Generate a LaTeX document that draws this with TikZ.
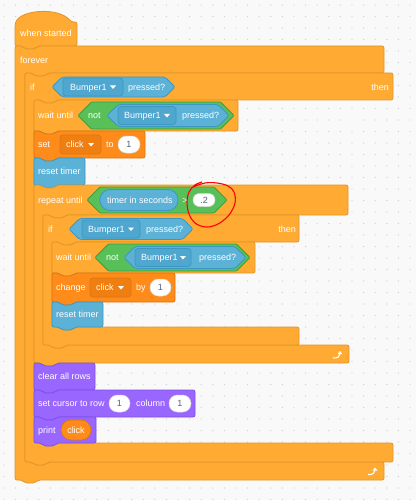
\documentclass[tikz,border=0pt]{standalone}
\usepackage{fontspec}
\setmainfont{Liberation Sans}
\usetikzlibrary{arrows.meta}

\definecolor{ctrlfill}{HTML}{FFAB33}
\definecolor{ctrlline}{HTML}{E0952A}
\definecolor{sensfill}{HTML}{5CB1D6}
\definecolor{sensline}{HTML}{3C98C0}
\definecolor{sensdrop}{HTML}{4FA6CE}
\definecolor{opfill}{HTML}{59C059}
\definecolor{opline}{HTML}{3F9E3F}
\definecolor{varfill}{HTML}{FF8C1A}
\definecolor{varline}{HTML}{DB7410}
\definecolor{vardrop}{HTML}{F07F12}
\definecolor{purpfill}{HTML}{9966FF}
\definecolor{purpline}{HTML}{7E52E0}
\definecolor{ovaltext}{HTML}{575E75}
\definecolor{canvas}{HTML}{F9F9F9}
\definecolor{griddot}{HTML}{D2D2D2}

% stack block: x0, y0, x1, y1, style
\newcommand{\stackblk}[5]{%
  \draw[#5] (#1,#2) -- ++(7,0) -- ++(3,3) -- ++(10,0) -- ++(3,-3) -- (#3,#2)
    -- (#3,#4) -- (#1+23,#4) -- ++(-3,3) -- ++(-10,0) -- ++(-3,-3) -- (#1,#4) -- cycle;}
% c block: x0, y0, head right, head bottom, arm top, arm right, bottom, inner x, style
\newcommand{\cblk}[9]{%
  \draw[#9] (#1,#2) -- ++(7,0) -- ++(3,3) -- ++(10,0) -- ++(3,-3) -- (#3,#2)
    -- (#3,#4) -- (#8+23,#4) -- ++(-3,3) -- ++(-10,0) -- ++(-3,-3) -- (#8,#4)
    -- (#8,#5) -- ++(7,0) -- ++(3,3) -- ++(10,0) -- ++(3,-3) -- (#6,#5)
    -- (#6,#7) -- (#1+23,#7) -- ++(-3,3) -- ++(-10,0) -- ++(-3,-3) -- (#1,#7) -- cycle;}
% boolean: x0, x1, yc, half height, style
\newcommand{\hexblk}[5]{%
  \draw[#5] (#1,#3) -- (#1+#4,#3-#4) -- (#2-#4,#3-#4) -- (#2,#3)
    -- (#2-#4,#3+#4) -- (#1+#4,#3+#4) -- cycle;}
% box: x0, y0, x1, y1, radius, style
\newcommand{\roundblk}[6]{\draw[#6, rounded corners=#5] (#1,#2) rectangle (#3,#4);}
\newcommand{\droparrow}[2]{\fill[white] (#1-3,#2-1.5) -- (#1+3,#2-1.5) -- (#1,#2+2) -- cycle;}

\begin{document}
\begin{tikzpicture}[x=1pt, y=-1pt,
    ctrl/.style={fill=ctrlfill, draw=ctrlline, line width=0.8pt, rounded corners=2pt},
    sens/.style={fill=sensfill, draw=sensline, line width=0.8pt, rounded corners=2pt},
    sdrop/.style={fill=sensdrop, draw=sensline, line width=0.7pt},
    oper/.style={fill=opfill, draw=opline, line width=0.8pt, rounded corners=1pt},
    varb/.style={fill=varfill, draw=varline, line width=0.8pt, rounded corners=2pt},
    vdrop/.style={fill=vardrop, draw=varline, line width=0.7pt},
    vpill/.style={fill=varfill, draw=varline, line width=0.7pt},
    purp/.style={fill=purpfill, draw=purpline, line width=0.8pt, rounded corners=2pt},
    oval/.style={fill=white, draw=black!15, line width=0.5pt},
    lbl/.style={font=\fontsize{9}{10}\selectfont, text=white, inner sep=0pt,
      text height=6.5pt, text depth=0pt, anchor=west},
    num/.style={lbl, text=ovaltext, anchor=center},
    redmark/.style={draw=red, line width=1.1pt},
    loopicon/.style={draw=white, line width=1.1pt, -{Triangle[length=3pt,width=4.5pt]}}]
  \useasboundingbox (0,0) rectangle (416,500);
  \fill[canvas] (0,0) rectangle (416,500);
  \foreach \i in {0,...,35}
    \foreach \j in {0,...,43}
      \fill[griddot] (4+\i*11.6, 5+\j*11.5) circle (0.7);

  % hat
  \draw[ctrl] (15,46) -- (15,25) .. controls (19,9) and (60,7) .. (71,22) -- (77,22)
    -- (77,46) -- (38,46) -- ++(-3,3) -- ++(-10,0) -- ++(-3,-3) -- cycle;
  \node[lbl] (when) at (20,33.5) {when started};

  % forever
  \cblk{15}{46}{384}{73}{462}{384}{480}{25}{ctrl}
  \node[lbl] (forever) at (20,60) {forever};

  % if
  \cblk{25}{73}{393}{100}{443}{393}{462}{34}{ctrl}
  \node[lbl] (if1) at (30,87) {if};
  \node[lbl, anchor=east] (then1) at (389,87) {then};
  \hexblk{52}{175}{87}{10}{sens}
  \roundblk{63}{78}{123}{96}{3pt}{sdrop}
  \node[lbl] (bump1) at (70,87) {Bumper1};
  \droparrow{113}{87}
  \node[lbl] (press1) at (128,87) {pressed?};

  \stackblk{34}{100}{238}{131}{ctrl}
  \node[lbl] (wait1) at (38,115.5) {wait until};
  \hexblk{78}{234}{115.5}{13.5}{oper}
  \node[lbl] (not1) at (88,115.5) {not};
  \hexblk{107}{229}{115.5}{11}{sens}
  \roundblk{118}{106.5}{176}{124.5}{3pt}{sdrop}
  \node[lbl] (bump2) at (124,115.5) {Bumper1};
  \droparrow{167}{115.5}
  \node[lbl] (press2) at (182,115.5) {pressed?};

  \stackblk{34}{131}{145}{158}{varb}
  \node[lbl] (set1) at (38,144.5) {set};
  \roundblk{60}{135}{101}{154}{3pt}{vdrop}
  \node[lbl] (click1) at (66,144.5) {click};
  \droparrow{91}{144.5}
  \node[lbl] (to1) at (106,144.5) {to};
  \roundblk{118}{136}{140}{153}{8.4pt}{oval}
  \node[num] (one1) at (129,144.5) {1};

  \stackblk{34}{158}{85}{185}{sens}
  \node[lbl] (reset1) at (38,171.5) {reset timer};

  % repeat until
  \cblk{34}{185}{348}{215}{345}{349}{363}{43}{ctrl}
  \node[lbl] (repeat) at (38,200) {repeat until};
  \hexblk{87}{227}{200}{13}{oper}
  \roundblk{100}{189.5}{178}{210.5}{10pt}{sens}
  \node[lbl] (timer) at (107,200) {timer in seconds};
  \node[lbl, anchor=center] (gt) at (185,200) {>};
  \roundblk{193}{193.5}{215}{206.5}{6.4pt}{oval}
  \node[num] (two) at (204,200) {.2};

  % inner if
  \cblk{43}{215}{299}{242}{327}{299}{345}{52}{ctrl}
  \node[lbl] (if2) at (48,229) {if};
  \node[lbl, anchor=east] (then2) at (296,229) {then};
  \hexblk{69}{193}{229}{10.5}{sens}
  \roundblk{82}{220}{140}{238}{3pt}{sdrop}
  \node[lbl] (bump3) at (88,229) {Bumper1};
  \droparrow{131}{229}
  \node[lbl] (press3) at (146,229) {pressed?};

  \stackblk{52}{242}{255}{273}{ctrl}
  \node[lbl] (wait2) at (56,257.5) {wait until};
  \hexblk{95}{250}{257.5}{13.5}{oper}
  \node[lbl] (not2) at (106,257.5) {not};
  \hexblk{124}{246}{257.5}{11}{sens}
  \roundblk{135}{248.5}{191}{266.5}{3pt}{sdrop}
  \node[lbl] (bump4) at (141,257.5) {Bumper1};
  \droparrow{183}{257.5}
  \node[lbl] (press4) at (199,257.5) {pressed?};

  \stackblk{52}{273}{175}{302}{varb}
  \node[lbl] (change) at (56,287.5) {change};
  \roundblk{90}{278}{131}{297}{3pt}{vdrop}
  \node[lbl] (click2) at (96,287.5) {click};
  \droparrow{121}{287.5}
  \node[lbl] (by) at (136,287.5) {by};
  \roundblk{150}{279}{171}{296}{8.4pt}{oval}
  \node[num] (one2) at (160.5,287.5) {1};

  \stackblk{52}{302}{103}{327}{sens}
  \node[lbl] (reset2) at (56,314.5) {reset timer};

  \draw[loopicon] (333,358) .. controls (338,358.5) and (340,356) .. (340,351);

  % lcd
  \stackblk{34}{363}{95}{390}{purp}
  \node[lbl] (clear) at (38,376.5) {clear all rows};

  \stackblk{34}{390}{195}{417}{purp}
  \node[lbl] (cursor) at (38,403.5) {set cursor to row};
  \roundblk{109}{395}{130}{412}{8.4pt}{oval}
  \node[num] (one3) at (119.5,403.5) {1};
  \node[lbl] (column) at (136,403.5) {column};
  \roundblk{169}{395}{191}{412}{8.4pt}{oval}
  \node[num] (one4) at (180,403.5) {1};

  \stackblk{34}{417}{96}{443}{purp}
  \node[lbl] (print) at (38,430) {print};
  \roundblk{61}{420}{91}{440}{9.9pt}{vpill}
  \node[lbl, anchor=center] (click3) at (76,430) {click};

  \draw[loopicon] (368,474.5) .. controls (373,475) and (375,472.5) .. (375,467.5);

  % red mark round the .2
  \draw[redmark] plot[smooth, tension=0.6] coordinates {(193,187) (205,183) (217,183)
    (228,186) (234,192) (235,203) (229,215) (218,224) (206,227) (195,223) (189,214)
    (187,202) (189,192) (195,185) (202,182)};
\end{tikzpicture}
\end{document}
